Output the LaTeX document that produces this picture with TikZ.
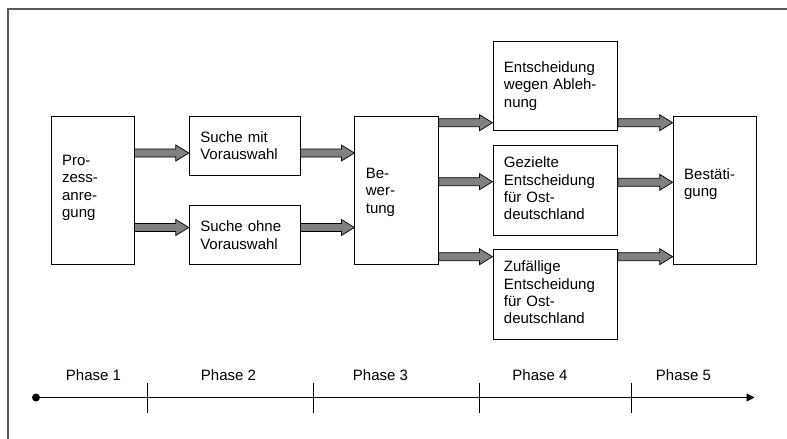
\documentclass[tikz,border=0pt]{standalone}
\usepackage{fontspec}
\setmainfont{Liberation Sans}
\usetikzlibrary{calc,arrows.meta}
\definecolor{framegray}{HTML}{595959}
\definecolor{arrowgray}{HTML}{808080}
\newcommand\blockarrow[2]{%
  \path[blockar] let \p1=#1, \p2=#2 in
    (\x1,\y1+4pt) -- (\x2-13pt,\y1+4pt) -- (\x2-13pt,\y1+8pt) -- (\x2,\y1)
    -- (\x2-13pt,\y1-8pt) -- (\x2-13pt,\y1-4pt) -- (\x1,\y1-4pt) -- cycle;}
\begin{document}
\begin{tikzpicture}[x=1pt,y=-1pt,
  box/.style={draw=black, line width=0.9pt, inner ysep=0pt, inner xsep=11pt,
    align=left, font=\fontsize{15}{17.3}\selectfont, text height=10.7pt,
    text depth=0pt, anchor=north west},
  blockar/.style={draw=black, fill=arrowgray, line width=0.7pt, line join=miter},
  phaselabel/.style={font=\fontsize{15}{17.3}\selectfont, anchor=base},
  tick/.style={line width=0.8pt}]
\useasboundingbox (0,0) rectangle (787,439);
% frame
\draw[framegray, line width=2pt] (7.7,439) -- (7.7,8.7) -- (787,8.7);
% boxes
\node[box, text width=60.8pt, minimum height=148.6pt, text depth=60.5pt] (P) at (50.7,115.7) {Pro-\\zess-\\anre-\\gung};
\node[box, text width=88.9pt, minimum height=59.6pt, text depth=17.3pt] (SM) at (188.8,115.7) {Suche mit\\Vorauswahl};
\node[box, text width=88.9pt, minimum height=59.3pt, text depth=17.3pt] (SO) at (188.8,205) {Suche ohne\\Vorauswahl};
\node[box, text width=61.4pt, minimum height=148.6pt, text depth=34.6pt] (BW) at (354.4,115.7) {Be-\\wer-\\tung};
\node[box, text width=102.5pt, minimum height=89pt, text depth=38.2pt] (E1) at (492.5,41.3) {Entscheidung\\wegen Ableh-\\nung};
\node[box, text width=102.5pt, minimum height=89.4pt, text depth=55.9pt] (E2) at (492.5,145.3) {Gezielte\\Entscheidung\\für Ost-\\deutschland};
\node[box, text width=102.5pt, minimum height=89.4pt, text depth=55.9pt] (E3) at (492.5,249.3) {Zufällige\\Entscheidung\\für Ost-\\deutschland};
\node[box, text width=60.8pt, minimum height=148.6pt, text depth=33.3pt] (BS) at (672.7,115.7) {Bestäti-\\gung};
% block arrows
\blockarrow{(P.east |- 0,153)}{(SM.west |- 0,153)}
\blockarrow{(P.east |- 0,227.5)}{(SO.west |- 0,227.5)}
\blockarrow{(SM.east |- 0,153)}{(BW.west |- 0,153)}
\blockarrow{(SO.east |- 0,227.5)}{(BW.west |- 0,227.5)}
\blockarrow{(BW.east |- 0,122.7)}{(E1.west |- 0,122.7)}
\blockarrow{(BW.east |- 0,181.7)}{(E2.west |- 0,181.7)}
\blockarrow{(BW.east |- 0,256.7)}{(E3.west |- 0,256.7)}
\blockarrow{(E1.east |- 0,122.7)}{(BS.west |- 0,122.7)}
\blockarrow{(E2.east |- 0,182.3)}{(BS.west |- 0,182.3)}
\blockarrow{(E3.east |- 0,256.7)}{(BS.west |- 0,256.7)}
% timeline
\coordinate (t0) at (36,397.5);
\coordinate (t1) at (754.5,397.5);
\draw[line width=0.9pt, -{Triangle[length=8pt,width=8pt]}] (t0) -- (t1);
\fill (t0) circle (4pt);
\coordinate (k1a) at (147,383); \coordinate (k1b) at (147,413);
\coordinate (k2a) at (313.3,383); \coordinate (k2b) at (313.3,413);
\coordinate (k3a) at (479,383); \coordinate (k3b) at (479,413);
\coordinate (k4a) at (631,383); \coordinate (k4b) at (631,413);
\draw[tick] (k1a) -- (k1b);
\draw[tick] (k2a) -- (k2b);
\draw[tick] (k3a) -- (k3b);
\draw[tick] (k4a) -- (k4b);
\node[phaselabel] (ph1) at (93.5,380.3) {Phase 1};
\node[phaselabel] (ph2) at (228.5,380.3) {Phase 2};
\node[phaselabel] (ph3) at (380.5,380.3) {Phase 3};
\node[phaselabel] (ph4) at (540,380.3) {Phase 4};
\node[phaselabel] (ph5) at (683.5,380.3) {Phase 5};
\end{tikzpicture}
\end{document}
